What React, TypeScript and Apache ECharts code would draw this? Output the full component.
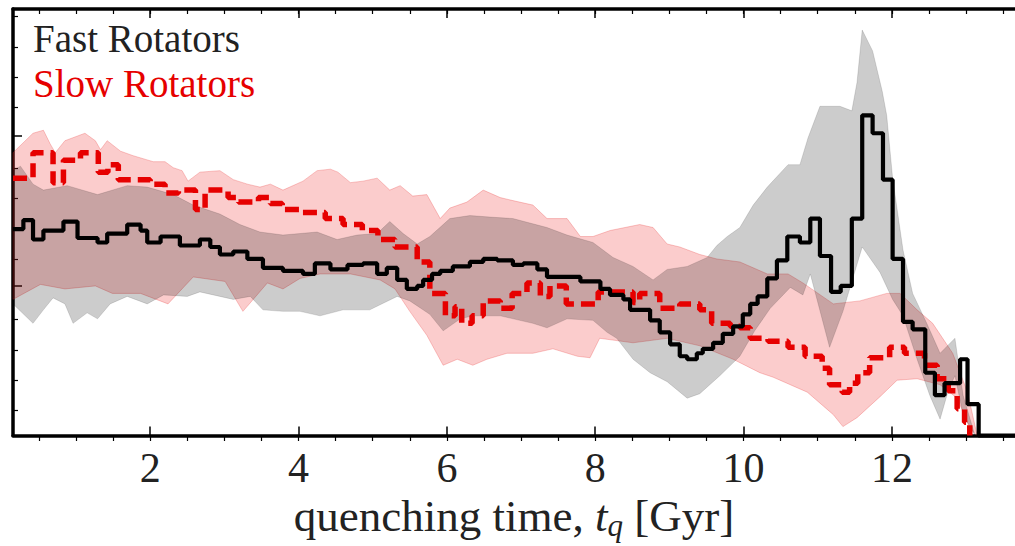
import React, { useEffect, useRef } from "react";
import * as echarts from "echarts";

// x: quenching time t_q [Gyr]; y: normalised fraction (axis has no labels)
const xMajorTicks = [2, 4, 6, 8, 10, 12];
const xMinorTicks = [0.5, 1, 1.5, 2, 2.5, 3, 3.5, 4, 4.5, 5, 5.5, 6, 6.5, 7, 7.5, 8, 8.5, 9, 9.5, 10, 10.5, 11, 11.5, 12, 12.5, 13, 13.5];
const yMajorTicks = [0, 1, 2];
const yMinorTicks = [0.2, 0.4, 0.6, 0.8, 1.2, 1.4, 1.6, 1.8, 2.2, 2.4, 2.6, 2.8];

// Fast rotators: histogram (left bin edge, value)
const fastStep: [number, number][] = [
  [0.15, 1.38], [0.29, 1.44], [0.42, 1.31], [0.56, 1.37], [0.83, 1.43], [1.02, 1.32], [1.29, 1.29], [1.42, 1.35],
  [1.69, 1.41], [1.87, 1.37], [1.96, 1.29], [2.14, 1.33], [2.4, 1.27], [2.67, 1.31], [2.81, 1.26], [2.94, 1.21],
  [3.12, 1.23], [3.31, 1.18], [3.52, 1.12], [3.79, 1.1], [4.06, 1.08], [4.22, 1.15], [4.43, 1.11], [4.66, 1.14],
  [4.87, 1.15], [5.06, 1.08], [5.19, 1.12], [5.33, 1.04], [5.46, 0.98], [5.6, 1.0], [5.68, 1.04], [5.8, 1.08],
  [5.91, 1.1], [6.08, 1.13], [6.31, 1.16], [6.49, 1.18], [6.68, 1.17], [6.89, 1.14], [7.03, 1.15], [7.22, 1.11],
  [7.35, 1.06], [7.8, 1.03], [8.07, 0.98], [8.2, 0.94], [8.38, 0.91], [8.47, 0.84], [8.74, 0.77], [8.87, 0.69],
  [9.01, 0.61], [9.14, 0.53], [9.24, 0.51], [9.37, 0.55], [9.45, 0.58], [9.59, 0.62], [9.72, 0.68], [9.86, 0.73],
  [9.99, 0.81], [10.09, 0.88], [10.19, 0.93], [10.32, 1.05], [10.45, 1.17], [10.59, 1.33], [10.76, 1.29], [10.9, 1.45],
  [11.03, 1.2], [11.18, 0.96], [11.31, 1.0], [11.46, 1.45], [11.6, 2.14], [11.74, 2.02], [11.88, 1.71], [12.01, 1.18],
  [12.15, 0.76], [12.28, 0.71], [12.45, 0.42], [12.58, 0.27], [12.71, 0.35], [12.92, 0.51], [13.02, 0.21], [13.17, 0],
  [13.66, 0],
];

// Slow rotators: histogram (left bin edge, value)
const slowStep: [number, number][] = [
  [0.15, 1.72], [0.42, 1.89], [0.69, 1.69], [0.83, 1.84], [1.06, 1.89], [1.3, 1.76], [1.43, 1.81], [1.57, 1.71],
  [2.0, 1.68], [2.2, 1.62], [2.38, 1.64], [2.61, 1.51], [2.74, 1.64], [3.05, 1.59], [3.19, 1.56], [3.46, 1.59],
  [3.62, 1.55], [3.78, 1.51], [4.02, 1.49], [4.36, 1.45], [4.6, 1.41], [4.86, 1.37], [5.07, 1.31], [5.3, 1.26],
  [5.6, 1.16], [5.77, 0.95], [5.98, 0.8], [6.11, 0.86], [6.2, 0.75], [6.34, 0.8], [6.49, 0.9], [6.72, 0.85],
  [6.88, 0.95], [7.08, 1.02], [7.26, 0.93], [7.39, 1.0], [7.61, 0.88], [8.04, 0.96], [8.51, 0.89], [8.6, 0.95],
  [8.87, 0.85], [9.14, 0.88], [9.41, 0.84], [9.57, 0.75], [9.82, 0.73], [9.95, 0.72], [10.09, 0.65], [10.33, 0.63],
  [10.6, 0.59], [10.83, 0.53], [11.06, 0.45], [11.16, 0.34], [11.33, 0.29], [11.43, 0.35], [11.54, 0.42], [11.7, 0.52],
  [11.97, 0.59], [12.17, 0.55], [12.44, 0.47], [12.61, 0.38], [12.76, 0.3], [12.88, 0.18], [12.98, 0.09], [13.05, 0],
];

// Fast rotators: spread band
const fastUpper: [number, number][] = [
  [0.15, 1.77], [0.25, 1.8], [0.42, 1.68], [0.56, 1.64], [0.88, 1.67], [1.29, 1.61], [1.69, 1.67], [1.96, 1.66],
  [2.31, 1.61], [2.58, 1.54], [2.94, 1.48], [3.21, 1.41], [3.48, 1.36], [3.79, 1.34], [4.25, 1.36], [4.52, 1.31],
  [4.79, 1.34], [5.06, 1.35], [5.23, 1.43], [5.41, 1.35], [5.6, 1.28], [5.77, 1.33], [6.04, 1.45], [6.31, 1.47],
  [6.58, 1.46], [6.89, 1.45], [7.35, 1.39], [7.62, 1.34], [7.97, 1.29], [8.24, 1.19], [8.51, 1.13], [8.78, 1.04],
  [8.97, 1.11], [9.24, 1.13], [9.51, 1.19], [9.64, 1.27], [9.78, 1.33], [9.95, 1.39], [10.13, 1.54], [10.32, 1.66],
  [10.6, 1.81], [10.76, 1.81], [10.87, 1.99], [11.03, 2.2], [11.3, 2.2], [11.46, 2.17], [11.53, 2.36], [11.6, 2.71],
  [11.74, 2.57], [11.87, 2.3], [11.93, 2.14], [12.01, 1.72], [12.15, 1.24], [12.28, 0.95], [12.47, 0.75], [12.65, 0.55],
  [12.85, 0.65], [12.96, 0.27], [13.12, 0],
];
const fastLower: [number, number][] = [
  [0.15, 0.88], [0.42, 0.75], [0.56, 0.84], [0.69, 0.92], [0.85, 0.88], [0.96, 0.75], [1.15, 0.82], [1.29, 0.78],
  [1.46, 0.88], [1.69, 0.93], [1.96, 0.88], [2.18, 0.94], [2.5, 0.93], [2.67, 0.96], [2.85, 0.94], [3.12, 0.91],
  [3.35, 0.93], [3.52, 0.84], [3.79, 0.83], [4.02, 0.83], [4.29, 0.8], [4.6, 0.84], [4.96, 0.84], [5.33, 0.93],
  [5.5, 0.9], [5.77, 0.81], [5.95, 0.7], [6.18, 0.78], [6.35, 0.8], [6.72, 0.8], [7.16, 0.75], [7.35, 0.72],
  [7.62, 0.78], [7.97, 0.77], [8.16, 0.69], [8.29, 0.65], [8.51, 0.51], [8.74, 0.42], [8.97, 0.36], [9.24, 0.25],
  [9.41, 0.28], [9.68, 0.4], [9.95, 0.53], [10.15, 0.7], [10.36, 0.85], [10.63, 0.99], [10.8, 0.94], [10.9, 1.08],
  [11.16, 0.59], [11.34, 0.83], [11.6, 1.26], [11.84, 1.09], [12.01, 0.91], [12.15, 0.8], [12.34, 0.51], [12.51, 0.27],
  [12.65, 0.11], [12.76, 0.3], [12.85, 0.4], [12.96, 0.14], [13.12, 0],
];

// Slow rotators: spread band
const slowUpper: [number, number][] = [
  [0.15, 1.89], [0.42, 2.02], [0.56, 2.04], [0.65, 1.95], [0.72, 1.89], [0.85, 1.97], [1.12, 2.02], [1.26, 1.97],
  [1.33, 1.91], [1.42, 1.97], [1.6, 1.9], [1.77, 1.87], [2.04, 1.83], [2.2, 1.83], [2.31, 1.79], [2.43, 1.77],
  [2.51, 1.7], [2.67, 1.76], [2.94, 1.77], [3.12, 1.71], [3.31, 1.68], [3.48, 1.66], [3.62, 1.68], [3.79, 1.64],
  [4.06, 1.7], [4.25, 1.77], [4.43, 1.78], [4.53, 1.76], [4.7, 1.69], [4.87, 1.7], [5.06, 1.72], [5.23, 1.64],
  [5.37, 1.67], [5.54, 1.6], [5.73, 1.61], [5.91, 1.45], [6.04, 1.52], [6.27, 1.56], [6.49, 1.64], [6.72, 1.59],
  [6.89, 1.57], [7.16, 1.54], [7.35, 1.45], [7.62, 1.45], [7.8, 1.33], [7.97, 1.33], [8.2, 1.37], [8.6, 1.41],
  [8.78, 1.39], [8.97, 1.28], [9.14, 1.26], [9.41, 1.21], [9.64, 1.18], [9.95, 1.16], [10.32, 1.08], [10.6, 1.08],
  [10.8, 1.02], [11.21, 0.88], [11.57, 0.9], [11.93, 0.95], [12.11, 0.95], [12.34, 0.84], [12.55, 0.75], [12.82, 0.55],
  [13.02, 0.29], [13.15, 0],
];
const slowLower: [number, number][] = [
  [0.15, 0.91], [0.52, 1.01], [0.85, 0.98], [1.26, 1.0], [1.49, 0.95], [1.87, 0.95], [2.24, 0.88], [2.58, 1.06],
  [3.01, 1.03], [3.25, 0.83], [3.58, 1.02], [3.79, 0.98], [4.02, 1.05], [4.29, 1.08], [4.7, 1.08], [5.1, 1.04],
  [5.3, 0.98], [5.5, 0.83], [5.73, 0.67], [5.95, 0.47], [6.14, 0.51], [6.35, 0.47], [6.54, 0.51], [6.81, 0.55],
  [7.16, 0.55], [7.43, 0.58], [7.76, 0.53], [7.93, 0.52], [8.06, 0.65], [8.51, 0.62], [8.97, 0.65], [9.41, 0.6],
  [9.86, 0.51], [10.22, 0.42], [10.4, 0.39], [10.86, 0.29], [11.21, 0.14], [11.34, 0.06], [11.53, 0.12], [11.84, 0.26],
  [12.07, 0.37], [12.34, 0.38], [12.65, 0.34], [12.88, 0.25], [13.05, 0.05], [13.15, 0],
];

const legendLabels = ["Fast Rotators", "Slow Rotators"];

const SERIF = "'Liberation Serif', 'DejaVu Serif', serif";
const X_MIN = 0.15;
const X_MAX = 13.66;
const Y_MIN = 0;
const Y_MAX = 2.85;
const RED = "#e60000";

export default function App() {
  const ref = useRef<HTMLDivElement>(null);

  useEffect(() => {
    if (!ref.current) return;
    const chart = echarts.init(ref.current, null, { renderer: "svg" });

    const band = (upper: [number, number][], lower: [number, number][], fill: string, stroke: string, z: number) => ({
      type: "custom",
      coordinateSystem: "cartesian2d",
      xAxisIndex: 0,
      yAxisIndex: 0,
      silent: true,
      z,
      data: [upper[0]],
      renderItem: (_params: any, api: any) => {
        const pts = upper.map((p) => api.coord(p)).concat(lower.slice().reverse().map((p) => api.coord(p)));
        return {
          type: "polygon",
          shape: { points: pts },
          style: { fill, stroke, lineWidth: 1 },
        };
      },
    });

    const gridRect = { left: 13, right: 0, top: 9, bottom: 105 };
    const lineAxis = { show: true, lineStyle: { color: "#000", width: 3.5 } };
    const majorTick = (vals: number[]) => ({
      show: true,
      inside: true,
      length: 9,
      customValues: vals,
      lineStyle: { color: "#000", width: 1.5 },
    });
    const minorTickStyle = (vals: number[]) => ({
      show: true,
      inside: true,
      length: 5,
      customValues: vals,
      lineStyle: { color: "#000", width: 1.2 },
    });

    chart.setOption({
      animation: false,
      backgroundColor: "#fff",
      grid: [
        { ...gridRect, containLabel: false },
        { ...gridRect, containLabel: false },
      ],
      xAxis: [
        {
          type: "value",
          gridIndex: 0,
          position: "bottom",
          min: X_MIN,
          max: X_MAX,
          axisLine: lineAxis,
          axisTick: majorTick(xMajorTicks),
          splitLine: { show: false },
          axisLabel: {
            show: true,
            customValues: xMajorTicks,
            fontFamily: SERIF,
            fontSize: 42,
            color: "#222",
            margin: 11,
          },
          name: "{a|quenching time, }{i|t}{s|q}{a| [Gyr]}",
          nameLocation: "middle",
          nameGap: 51,
          nameTextStyle: {
            rich: {
              a: { fontFamily: SERIF, fontSize: 45, color: "#222", lineHeight: 50 },
              i: { fontFamily: SERIF, fontSize: 45, fontStyle: "italic", color: "#222", lineHeight: 50 },
              s: { fontFamily: SERIF, fontSize: 31, fontStyle: "italic", color: "#222", lineHeight: 24, verticalAlign: "bottom" },
            },
          },
        },
        {
          type: "value",
          gridIndex: 0,
          position: "top",
          min: X_MIN,
          max: X_MAX,
          axisLine: lineAxis,
          axisTick: majorTick(xMajorTicks),
          axisLabel: { show: false },
          splitLine: { show: false },
        },
        {
          type: "value",
          gridIndex: 1,
          position: "bottom",
          min: X_MIN,
          max: X_MAX,
          axisLine: { show: false },
          axisTick: minorTickStyle(xMinorTicks),
          axisLabel: { show: false },
          splitLine: { show: false },
        },
        {
          type: "value",
          gridIndex: 1,
          position: "top",
          min: X_MIN,
          max: X_MAX,
          axisLine: { show: false },
          axisTick: minorTickStyle(xMinorTicks),
          axisLabel: { show: false },
          splitLine: { show: false },
        },
      ],
      yAxis: [
        {
          type: "value",
          gridIndex: 0,
          position: "left",
          min: Y_MIN,
          max: Y_MAX,
          axisLine: lineAxis,
          axisTick: majorTick(yMajorTicks),
          axisLabel: { show: false },
          splitLine: { show: false },
        },
        {
          type: "value",
          gridIndex: 1,
          position: "left",
          min: Y_MIN,
          max: Y_MAX,
          axisLine: { show: false },
          axisTick: minorTickStyle(yMinorTicks),
          axisLabel: { show: false },
          splitLine: { show: false },
        },
      ],
      graphic: [
        {
          type: "text",
          left: 33,
          top: 19,
          silent: true,
          style: { text: legendLabels[0], fontFamily: SERIF, fontSize: 39, fill: "#222" },
        },
        {
          type: "text",
          left: 33,
          top: 64,
          silent: true,
          style: { text: legendLabels[1], fontFamily: SERIF, fontSize: 39, fill: RED },
        },
      ],
      series: [
        band(slowUpper, slowLower, "rgba(240,40,40,0.24)", "rgba(230,40,40,0.25)", 1),
        band(fastUpper, fastLower, "rgba(0,0,0,0.2)", "rgba(0,0,0,0.12)", 2),
        {
          name: legendLabels[1],
          type: "line",
          xAxisIndex: 0,
          yAxisIndex: 0,
          step: "end",
          data: slowStep,
          showSymbol: false,
          symbol: "none",
          z: 3,
          lineStyle: { color: RED, width: 5.5, type: [14, 7], cap: "butt" },
        },
        {
          name: legendLabels[0],
          type: "line",
          xAxisIndex: 0,
          yAxisIndex: 0,
          step: "end",
          data: fastStep,
          showSymbol: false,
          symbol: "none",
          z: 4,
          lineStyle: { color: "#000", width: 4.2 },
        },
      ],
    });

    return () => chart.dispose();
  }, []);

  return <div ref={ref} style={{ position: "absolute", left: 0, top: 0, width: 1015, height: 546 }} />;
}
